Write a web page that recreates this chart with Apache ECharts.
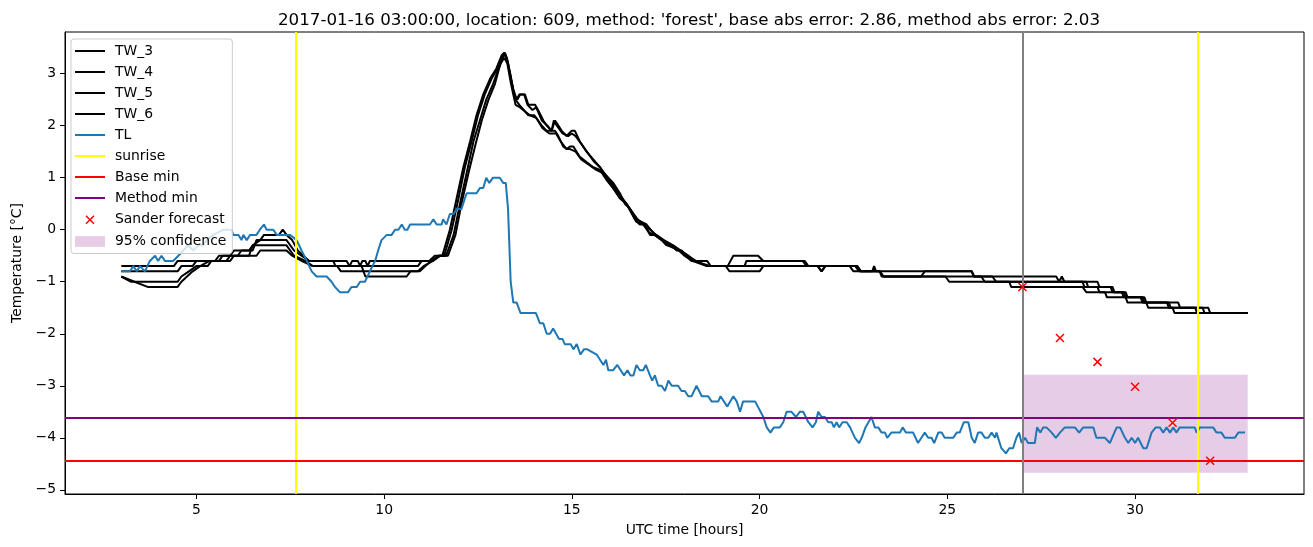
<!DOCTYPE html>
<html><head><meta charset="utf-8">
<script src="https://cdn.jsdelivr.net/npm/echarts@6/dist/echarts.min.js"></script>
<style>html,body{margin:0;padding:0;background:#fff}#c{width:1313px;height:547px}</style>
</head><body><div id="c"></div>
<script>
const titleText = "2017-01-16 03:00:00, location: 609, method: 'forest', base abs error: 2.86, method abs error: 2.03";
const xTicks = [5, 10, 15, 20, 25, 30];
const yTicks = [-5, -4, -3, -2, -1, 0, 1, 2, 3];

const tw3 = [[3,-0.7],[4.4,-0.7],[4.5,-0.6],[5.5,-0.6],[5.6,-0.5],[5.9,-0.5],[6.0,-0.4],[6.4,-0.4],[6.5,-0.3],[6.7,-0.2],[6.8,-0.1],[7.2,-0.1],[7.3,0.0],[7.4,-0.1],[7.55,-0.2],[7.7,-0.4],[7.85,-0.5],[8.0,-0.6],[9.0,-0.6],[9.08,-0.7],[9.15,-0.6],[9.3,-0.6],[9.36,-0.7],[9.42,-0.6],[9.5,-0.6],[9.56,-0.7],[9.62,-0.6],[11.2,-0.6],[11.35,-0.5],[11.55,-0.5],[11.75,0.0],[11.93,0.6],[12.11,1.2],[12.29,1.7],[12.46,2.2],[12.64,2.6],[12.82,2.9],[12.99,3.1],[13.13,3.35],[13.19,3.4],[13.26,3.3],[13.35,3.0],[13.44,2.7],[13.53,2.5],[13.6,2.6],[13.75,2.6],[13.84,2.4],[14.02,2.4],[14.10,2.3],[14.24,2.1],[14.33,2.0],[14.46,1.9],[14.55,2.1],[14.64,2.0],[14.73,1.9],[14.86,1.8],[14.99,1.9],[15.08,1.9],[15.21,1.7],[15.39,1.5],[15.57,1.35],[15.75,1.2],[15.84,1.1],[15.97,1.0],[16.10,0.9],[16.28,0.7],[16.41,0.5],[16.55,0.4],[16.68,0.2],[16.81,0.1],[16.95,0.1],[17.08,-0.1],[17.21,-0.1],[17.39,-0.2],[17.52,-0.3],[17.66,-0.3],[17.79,-0.4],[17.92,-0.4],[18.05,-0.5],[18.19,-0.6],[18.6,-0.6],[18.7,-0.7],[19.15,-0.7],[19.3,-0.5],[19.96,-0.5],[20.1,-0.6],[21.15,-0.6],[21.25,-0.7],[22.55,-0.7],[22.65,-0.8],[23.0,-0.8],[23.05,-0.7],[23.1,-0.8],[25.65,-0.8],[25.72,-0.9],[27.9,-0.9],[27.98,-1.0],[28.05,-0.9],[28.12,-1.0],[29.0,-1.0],[29.05,-1.1],[29.4,-1.1],[29.45,-1.2],[29.75,-1.2],[29.8,-1.3],[30.25,-1.3],[30.3,-1.4],[31.15,-1.4],[31.2,-1.5],[31.95,-1.5],[32.0,-1.6],[33,-1.6]];

const tw4 = [[3,-0.8],[4.5,-0.8],[4.6,-0.7],[4.9,-0.7],[5.0,-0.6],[5.6,-0.6],[5.7,-0.5],[6.1,-0.5],[6.2,-0.4],[6.5,-0.4],[6.6,-0.2],[7.4,-0.2],[7.6,-0.4],[7.8,-0.5],[8.0,-0.6],[8.65,-0.6],[8.7,-0.7],[10.9,-0.7],[11.0,-0.6],[11.3,-0.6],[11.45,-0.5],[11.6,-0.5],[11.8,0.0],[11.98,0.6],[12.15,1.2],[12.33,1.7],[12.5,2.2],[12.68,2.6],[12.86,2.9],[13.02,3.1],[13.15,3.3],[13.2,3.4],[13.27,3.3],[13.36,3.0],[13.46,2.6],[13.55,2.5],[13.62,2.6],[13.73,2.6],[13.82,2.4],[13.95,2.3],[14.05,2.35],[14.2,2.1],[14.35,2.0],[14.46,1.9],[14.52,2.1],[14.6,2.0],[14.75,1.85],[14.9,1.8],[15.0,1.85],[15.1,1.8],[15.25,1.65],[15.4,1.5],[15.6,1.3],[15.75,1.2],[15.9,1.05],[16.1,0.85],[16.3,0.65],[16.45,0.5],[16.6,0.3],[16.72,0.15],[16.9,0.1],[17.05,-0.05],[17.2,-0.1],[17.4,-0.2],[17.55,-0.3],[17.7,-0.35],[17.85,-0.4],[18.0,-0.5],[18.2,-0.6],[18.6,-0.7],[19.6,-0.7],[19.65,-0.6],[21.2,-0.6],[21.3,-0.7],[22.4,-0.7],[22.5,-0.8],[23.2,-0.8],[23.25,-0.9],[24.3,-0.9],[24.4,-0.8],[25.65,-0.8],[25.7,-0.9],[26.2,-0.9],[26.3,-1.0],[28.7,-1.0],[28.75,-1.1],[29.35,-1.1],[29.4,-1.2],[29.7,-1.2],[29.75,-1.3],[30.2,-1.3],[30.25,-1.4],[30.9,-1.4],[30.95,-1.5],[31.8,-1.5],[31.85,-1.6],[33,-1.6]];

const tw5 = [[3,-0.9],[3.25,-1.0],[4.5,-1.0],[4.6,-0.9],[4.8,-0.8],[5.0,-0.7],[5.3,-0.7],[5.4,-0.6],[5.9,-0.6],[6.0,-0.5],[6.4,-0.5],[6.5,-0.3],[7.4,-0.3],[7.6,-0.5],[7.9,-0.6],[8.1,-0.7],[8.75,-0.7],[8.85,-0.8],[10.95,-0.8],[11.1,-0.7],[11.25,-0.6],[11.45,-0.5],[11.65,-0.5],[11.85,-0.1],[12.02,0.5],[12.2,1.1],[12.38,1.7],[12.55,2.1],[12.72,2.5],[12.9,2.8],[13.05,3.1],[13.17,3.3],[13.22,3.4],[13.3,3.2],[13.4,2.8],[13.5,2.5],[13.6,2.4],[13.84,2.2],[14.0,2.2],[14.2,2.0],[14.33,1.9],[14.55,1.9],[14.64,1.8],[14.77,1.6],[14.86,1.55],[14.95,1.6],[15.04,1.6],[15.21,1.4],[15.39,1.3],[15.57,1.2],[15.75,1.15],[15.92,0.96],[16.1,0.8],[16.28,0.6],[16.46,0.5],[16.72,0.2],[16.99,0.1],[17.21,-0.1],[17.43,-0.2],[17.66,-0.3],[17.88,-0.4],[18.1,-0.5],[18.25,-0.6],[18.7,-0.7],[19.1,-0.7],[19.2,-0.8],[20.0,-0.8],[20.1,-0.7],[21.55,-0.7],[21.65,-0.8],[21.75,-0.7],[22.6,-0.7],[22.7,-0.8],[23.2,-0.8],[23.3,-0.9],[24.95,-0.9],[25.05,-1.0],[28.6,-1.0],[28.65,-1.1],[29.0,-1.1],[29.05,-1.2],[29.65,-1.2],[29.7,-1.3],[30.15,-1.3],[30.2,-1.4],[30.85,-1.4],[30.9,-1.5],[31.6,-1.5],[31.65,-1.6],[33,-1.6]];

const tw6 = [[3,-0.9],[3.35,-1.0],[3.7,-1.1],[4.5,-1.1],[4.6,-1.0],[4.75,-0.9],[4.9,-0.8],[5.1,-0.7],[5.35,-0.6],[5.8,-0.6],[5.9,-0.5],[6.6,-0.5],[6.7,-0.4],[7.4,-0.4],[7.55,-0.5],[7.8,-0.6],[8.1,-0.7],[9.4,-0.7],[9.5,-0.9],[10.6,-0.9],[10.7,-0.8],[10.9,-0.8],[11.05,-0.7],[11.3,-0.6],[11.5,-0.5],[11.7,-0.5],[11.9,-0.1],[12.06,0.5],[12.25,1.1],[12.42,1.6],[12.6,2.1],[12.78,2.5],[12.95,2.8],[13.1,3.2],[13.2,3.3],[13.28,3.2],[13.38,2.8],[13.5,2.4],[13.62,2.35],[13.88,2.2],[14.05,2.15],[14.22,1.95],[14.4,1.85],[14.58,1.85],[14.7,1.7],[14.86,1.55],[14.95,1.55],[15.1,1.5],[15.25,1.35],[15.45,1.25],[15.65,1.15],[15.8,1.1],[15.95,0.95],[16.15,0.75],[16.3,0.6],[16.5,0.45],[16.75,0.2],[17.0,0.05],[17.25,-0.1],[17.45,-0.2],[17.7,-0.3],[17.9,-0.4],[18.1,-0.5],[18.3,-0.6],[18.6,-0.7],[21.55,-0.7],[21.65,-0.8],[21.75,-0.7],[22.6,-0.7],[22.7,-0.8],[23.2,-0.8],[23.3,-0.9],[25.9,-0.9],[26.0,-1.0],[26.65,-1.0],[26.7,-1.1],[28.6,-1.1],[28.7,-1.2],[29.2,-1.2],[29.25,-1.3],[29.75,-1.3],[29.8,-1.4],[30.3,-1.4],[30.35,-1.5],[31.0,-1.5],[31.05,-1.6],[33,-1.6]];

const tl = [[3.0,-0.8],[3.23,-0.8],[3.32,-0.7],[3.41,-0.8],[3.50,-0.7],[3.63,-0.8],[3.76,-0.6],[3.90,-0.5],[3.98,-0.6],[4.07,-0.5],[4.16,-0.6],[4.38,-0.6],[4.52,-0.5],[4.65,-0.4],[4.78,-0.3],[4.92,-0.4],[5.05,-0.3],[5.18,-0.3],[5.27,-0.2],[5.45,-0.1],[5.72,0.0],[5.94,0.0],[5.98,-0.1],[6.12,-0.1],[6.20,-0.2],[6.25,-0.1],[6.34,-0.2],[6.43,-0.1],[6.60,-0.1],[6.69,0.0],[6.80,0.1],[6.87,0.0],[7.05,0.0],[7.14,-0.1],[7.49,-0.1],[7.67,-0.2],[7.80,-0.4],[7.94,-0.6],[8.07,-0.8],[8.20,-0.9],[8.47,-0.9],[8.60,-1.0],[8.69,-1.1],[8.82,-1.2],[9.04,-1.2],[9.13,-1.1],[9.27,-1.1],[9.36,-1.0],[9.49,-1.0],[9.62,-0.8],[9.76,-0.6],[9.84,-0.4],[9.93,-0.2],[10.07,-0.1],[10.20,-0.1],[10.29,0.0],[10.38,0.0],[10.47,0.1],[10.55,0.0],[10.62,0.0],[10.69,0.1],[11.22,0.1],[11.31,0.2],[11.40,0.1],[11.53,0.1],[11.57,0.2],[11.66,0.1],[11.75,0.3],[11.85,0.3],[11.93,0.4],[12.06,0.4],[12.15,0.6],[12.20,0.7],[12.46,0.7],[12.55,0.8],[12.64,0.8],[12.72,1.0],[12.80,0.9],[12.90,1.0],[13.08,1.0],[13.17,0.9],[13.24,0.9],[13.30,0.4],[13.37,-1.0],[13.44,-1.4],[13.53,-1.4],[13.63,-1.6],[14.04,-1.6],[14.15,-1.8],[14.24,-1.8],[14.33,-2.0],[14.42,-2.0],[14.50,-1.9],[14.55,-1.9],[14.66,-2.1],[14.75,-2.1],[14.81,-2.2],[14.97,-2.2],[15.04,-2.3],[15.13,-2.2],[15.23,-2.4],[15.32,-2.3],[15.41,-2.3],[15.66,-2.4],[15.75,-2.5],[15.84,-2.6],[15.91,-2.5],[15.97,-2.7],[16.10,-2.7],[16.21,-2.6],[16.30,-2.7],[16.39,-2.8],[16.48,-2.7],[16.56,-2.8],[16.64,-2.8],[16.72,-2.6],[16.81,-2.7],[16.90,-2.7],[16.97,-2.6],[17.08,-2.8],[17.14,-2.9],[17.21,-2.8],[17.30,-3.0],[17.39,-3.0],[17.48,-3.1],[17.57,-2.9],[17.66,-3.0],[17.83,-3.0],[17.92,-3.1],[18.01,-3.1],[18.10,-3.2],[18.19,-3.2],[18.32,-3.0],[18.46,-3.2],[18.63,-3.2],[18.72,-3.3],[18.90,-3.3],[18.96,-3.2],[19.14,-3.4],[19.30,-3.2],[19.39,-3.3],[19.48,-3.5],[19.56,-3.3],[19.88,-3.3],[20.10,-3.6],[20.19,-3.8],[20.29,-3.9],[20.38,-3.8],[20.54,-3.8],[20.63,-3.7],[20.72,-3.5],[20.85,-3.5],[20.97,-3.6],[21.07,-3.5],[21.16,-3.5],[21.30,-3.7],[21.41,-3.8],[21.50,-3.7],[21.56,-3.5],[21.65,-3.6],[21.74,-3.6],[21.83,-3.7],[21.92,-3.7],[21.98,-3.8],[22.05,-3.7],[22.12,-3.8],[22.21,-3.7],[22.32,-3.7],[22.41,-3.8],[22.54,-4.0],[22.65,-4.1],[22.72,-4.0],[22.82,-3.8],[22.98,-3.6],[23.07,-3.8],[23.16,-3.8],[23.25,-3.9],[23.34,-3.9],[23.40,-4.0],[23.51,-3.9],[23.74,-3.9],[23.81,-3.8],[23.90,-3.9],[24.09,-3.9],[24.22,-4.1],[24.31,-4.0],[24.40,-3.9],[24.49,-4.0],[24.58,-4.0],[24.65,-4.1],[24.76,-3.9],[24.85,-3.9],[24.93,-4.0],[25.07,-4.0],[25.16,-4.0],[25.25,-3.9],[25.33,-3.9],[25.44,-3.7],[25.56,-3.7],[25.65,-4.0],[25.73,-4.1],[25.82,-3.9],[25.91,-3.9],[26.00,-4.0],[26.09,-4.0],[26.18,-3.9],[26.27,-4.0],[26.31,-3.9],[26.44,-4.2],[26.56,-4.3],[26.65,-4.2],[26.75,-4.2],[26.84,-4.0],[26.91,-3.9],[26.98,-4.1],[27.07,-4.0],[27.15,-4.1],[27.33,-4.1],[27.39,-3.8],[27.48,-3.9],[27.55,-3.8],[27.64,-3.8],[27.78,-3.9],[27.89,-4.0],[28.00,-3.9],[28.13,-3.8],[28.40,-3.8],[28.51,-3.9],[28.62,-3.8],[28.89,-3.8],[28.97,-4.0],[29.20,-4.0],[29.33,-4.1],[29.51,-3.8],[29.60,-3.8],[29.73,-4.0],[29.82,-4.1],[29.91,-4.0],[30.00,-4.1],[30.08,-4.0],[30.22,-4.2],[30.31,-4.2],[30.44,-3.9],[30.55,-3.8],[30.66,-3.8],[30.75,-3.9],[30.84,-3.8],[30.93,-3.9],[31.02,-3.8],[31.10,-3.9],[31.19,-3.8],[31.59,-3.8],[31.64,-3.9],[31.73,-3.8],[32.08,-3.8],[32.17,-3.9],[32.30,-3.9],[32.39,-4.0],[32.66,-4.0],[32.75,-3.9],[32.93,-3.9]];

const sunriseX = [7.65, 31.67];
const baseMin = -4.44;
const methodMin = -3.61;
const nowX = 27;
const forecastX = [27, 28, 29, 30, 31, 32];
const forecastY = [-1.10, -2.08, -2.54, -3.02, -3.71, -4.44];
const bandX = [27, 33];
const bandY = [-4.67, -2.79];

const FONT = 'DejaVu Sans';
const minus = v => String(v).replace('-', '\u2212');
const LINE_ICON = 'path://M0,0h30v2h-30z';
const blackLine = (name, data) => ({
  name, type: 'line', data, symbol: 'none', showSymbol: false, z: 2,
  itemStyle: {color: '#000000'}, lineStyle: {color: '#000000', width: 2}
});
const lineLegend = (name, color) => ({name, icon: LINE_ICON, itemStyle: {color, borderWidth: 0}});

const chart = echarts.init(document.getElementById('c'), null, {renderer: 'canvas'});
chart.setOption({
  animation: false,
  backgroundColor: '#ffffff',
  title: {
    text: titleText, left: 684, top: 7, textAlign: 'center',
    textStyle: {fontFamily: FONT, fontSize: 16.7, fontWeight: 'normal', color: '#000'}
  },
  grid: {left: 65, right: 9, top: 32, bottom: 53, show: true, borderColor: '#000', borderWidth: 1, backgroundColor: 'transparent'},
  legend: {
    orient: 'vertical', left: 71, top: 39,
    itemWidth: 30, itemHeight: 14, itemGap: 7.0,
    padding: [5, 6, 5, 4],
    backgroundColor: 'rgba(255,255,255,0.8)', borderColor: '#cccccc', borderWidth: 1, borderRadius: 3,
    textStyle: {fontFamily: FONT, fontSize: 13.9, color: '#000', padding: [0, 0, 0, 5]},
    data: [
      lineLegend('TW_3', '#000000'), lineLegend('TW_4', '#000000'),
      lineLegend('TW_5', '#000000'), lineLegend('TW_6', '#000000'),
      lineLegend('TL', '#1f77b4'), lineLegend('sunrise', '#ffff00'),
      lineLegend('Base min', '#ff0000'), lineLegend('Method min', '#800080'),
      {name: 'Sander forecast', icon: 'path://M-3,-3M0,0L8,8M8,0L0,8M11,11',
       itemStyle: {color: 'rgba(0,0,0,0)', borderColor: '#ff0000', borderWidth: 1.5}},
      {name: '95% confidence', icon: 'path://M0,0h28v10h-28z',
       itemStyle: {color: 'rgba(128,0,128,0.2)', borderWidth: 0}}
    ]
  },
  xAxis: {
    type: 'value', min: 1.5, max: 34.5,
    name: 'UTC time [hours]', nameLocation: 'middle', nameGap: 29,
    nameTextStyle: {fontFamily: FONT, fontSize: 13.9, color: '#000'},
    axisLine: {show: true, onZero: false, lineStyle: {color: '#000', width: 1}},
    axisTick: {show: true, length: 5, lineStyle: {color: '#000'}, customValues: xTicks},
    axisLabel: {fontFamily: FONT, fontSize: 13.9, color: '#000', margin: 9, customValues: xTicks, formatter: minus},
    splitLine: {show: false}
  },
  yAxis: {
    type: 'value', min: -5.08, max: 3.80,
    name: 'Temperature [°C]', nameLocation: 'middle', nameGap: 40,
    nameTextStyle: {fontFamily: FONT, fontSize: 13.9, color: '#000'},
    axisLine: {show: true, onZero: false, lineStyle: {color: '#000', width: 1}},
    axisTick: {show: true, length: 5, lineStyle: {color: '#000'}, customValues: yTicks},
    axisLabel: {fontFamily: FONT, fontSize: 13.9, color: '#000', margin: 9, customValues: yTicks, formatter: minus},
    splitLine: {show: false}
  },
  series: [
    blackLine('TW_3', tw3),
    blackLine('TW_4', tw4),
    blackLine('TW_5', tw5),
    blackLine('TW_6', tw6),
    {name: 'TL', type: 'line', data: tl, symbol: 'none', showSymbol: false, z: 3,
     itemStyle: {color: '#1f77b4'}, lineStyle: {color: '#1f77b4', width: 2}},
    {name: 'sunrise', type: 'line', data: [], symbol: 'none', z: 5,
     itemStyle: {color: '#ffff00'}, lineStyle: {color: '#ffff00', width: 2},
     markLine: {silent: true, symbol: ['none', 'none'], label: {show: false}, animation: false,
       lineStyle: {color: '#ffff00', width: 2, type: 'solid'},
       data: sunriseX.map(x => ({xAxis: x}))}},
    {name: 'Base min', type: 'line', data: [], symbol: 'none', z: 5,
     itemStyle: {color: '#ff0000'}, lineStyle: {color: '#ff0000', width: 2},
     markLine: {silent: true, symbol: ['none', 'none'], label: {show: false}, animation: false,
       lineStyle: {color: '#ff0000', width: 2, type: 'solid'}, data: [{yAxis: baseMin}]}},
    {name: 'Method min', type: 'line', data: [], symbol: 'none', z: 5,
     itemStyle: {color: '#800080'}, lineStyle: {color: '#800080', width: 2},
     markLine: {silent: true, symbol: ['none', 'none'], label: {show: false}, animation: false,
       lineStyle: {color: '#800080', width: 2, type: 'solid'}, data: [{yAxis: methodMin}]}},
    {name: 'now', type: 'line', data: [], symbol: 'none', z: 5,
     itemStyle: {color: '#808080'}, lineStyle: {color: '#808080', width: 2},
     markLine: {silent: true, symbol: ['none', 'none'], label: {show: false}, animation: false,
       lineStyle: {color: '#808080', width: 2, type: 'solid'}, data: [{xAxis: nowX}]}},
    {name: 'Sander forecast', type: 'scatter', z: 6,
     data: forecastX.map((x, i) => [x, forecastY[i]]),
     symbol: 'path://M0,0L10,10M10,0L0,10', symbolSize: 8,
     itemStyle: {color: 'rgba(0,0,0,0)', borderColor: '#ff0000', borderWidth: 1.5, opacity: 1}},
    {name: '95% confidence', type: 'line', data: [], symbol: 'none', z: 1,
     itemStyle: {color: 'rgba(128,0,128,0.2)'}, lineStyle: {color: 'rgba(128,0,128,0.2)'},
     markArea: {silent: true, itemStyle: {color: 'rgba(128,0,128,0.2)'},
       data: [[{xAxis: bandX[0], yAxis: bandY[1]}, {xAxis: bandX[1], yAxis: bandY[0]}]]}}
  ]
});
</script></body></html>
